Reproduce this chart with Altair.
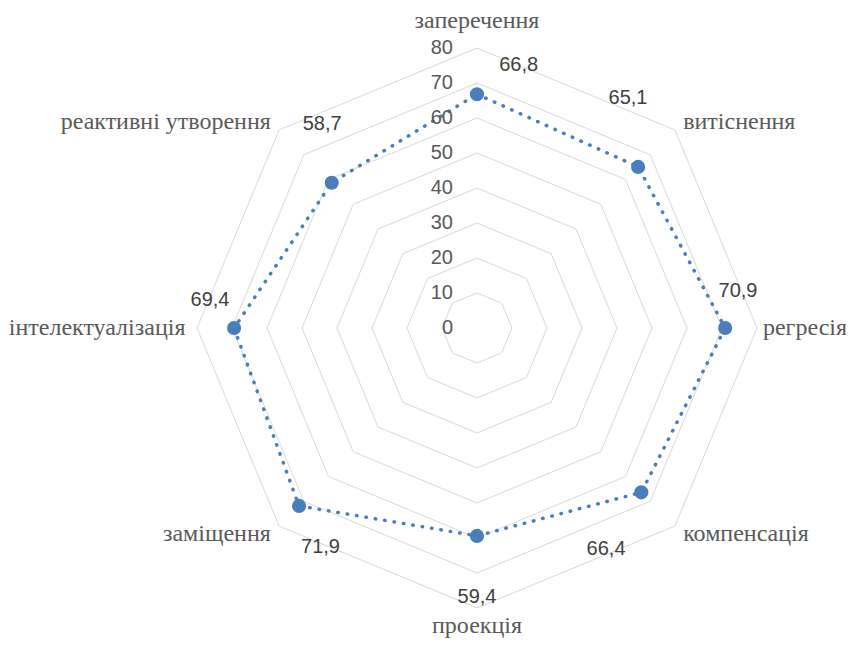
import math
import altair as alt
import pandas as pd

categories = ["заперечення", "витіснення", "регресія", "компенсація",
              "проекція", "заміщення", "інтелектуалізація", "реактивні утворення"]
values = [66.8, 65.1, 70.9, 66.4, 59.4, 71.9, 69.4, 58.7]
value_labels = ["66,8", "65,1", "70,9", "66,4", "59,4", "71,9", "69,4", "58,7"]
ticks = [0, 10, 20, 30, 40, 50, 60, 70, 80]

# value-label placement: angular nudge (degrees) and radius (axis units)
label_nudge = [9, -11.7, -8, 14.7, 0, -9.5, 6, 7.8]
label_rad = [76.1, 78.6, 75.3, 73.1, 76.9, 77.0, 76.7, 73.2]

n = len(categories)
BLUE = "#4a7ebb"
GRID = "#d9d9d9"
TXT = "#595959"

W, H = 838, 630
PX = 3.5
CX, CY = 469, 320

def pol(r, i, nudge=0.0):
    a = math.radians(i * 360.0 / n + nudge)
    return r * math.sin(a), r * math.cos(a)

# grid rings
grid_rows = []
for t in ticks[1:]:
    for k in range(n + 1):
        x, y = pol(t, k % n)
        grid_rows.append({"ring": t, "k": k, "x": x, "y": y})
grid_df = pd.DataFrame(grid_rows)

# series
ser_rows = []
for k in range(n + 1):
    i = k % n
    x, y = pol(values[i], i)
    ser_rows.append({"k": k, "x": x, "y": y, "cat": categories[i], "v": values[i]})
ser_df = pd.DataFrame(ser_rows)
pts_df = ser_df.iloc[:n]

# value labels
vl_rows = []
for i in range(n):
    x, y = pol(label_rad[i], i, label_nudge[i])
    vl_rows.append({"x": x, "y": y, "t": value_labels[i]})
vl_df = pd.DataFrame(vl_rows)

# category labels
cat_rows = []
for i in range(n):
    ang = i * 360.0 / n
    if ang == 0:
        r, al, bl = (CY - 0.5) / PX, "center", "top"
    elif ang == 180:
        r, al, bl = (H - CY - 0.5) / PX, "center", "bottom"
    elif ang == 90:
        r, al, bl = 81.7, "left", "middle"
    elif ang < 180:
        r, al, bl = 83.3, "left", "middle"
    else:
        r, al, bl = 83.3, "right", "middle"
    x, y = pol(r, i)
    cat_rows.append({"x": x, "y": y, "t": categories[i], "al": al, "bl": bl})
cat_df = pd.DataFrame(cat_rows)

tick_df = pd.DataFrame({"x": [0.0] * len(ticks), "y": [float(t) for t in ticks],
                        "t": [str(t) for t in ticks]})

xs = alt.Scale(domain=[-CX / PX, (W - CX) / PX], nice=False, zero=False)
ys = alt.Scale(domain=[-(H - CY) / PX, CY / PX], nice=False, zero=False)
X = alt.X("x:Q", scale=xs, axis=None)
Y = alt.Y("y:Q", scale=ys, axis=None)

grid = alt.Chart(grid_df).mark_line(color=GRID, strokeWidth=1).encode(
    x=X, y=Y, detail="ring:N", order="k:Q")

line = alt.Chart(ser_df).mark_line(color=BLUE, strokeWidth=3.5, strokeCap="round",
                                   strokeDash=[0.5, 9]).encode(x=X, y=Y, order="k:Q")

pts = alt.Chart(pts_df).mark_point(filled=True, shape="circle", size=200, color=BLUE,
                                   opacity=1).encode(x=X, y=Y)

tick_text = alt.Chart(tick_df).mark_text(align="right", baseline="middle", dx=-24,
                                         font="Liberation Sans", fontSize=20,
                                         color=TXT).encode(x=X, y=Y, text="t:N")

val_text = alt.Chart(vl_df).mark_text(align="center", baseline="middle",
                                      font="Liberation Sans", fontSize=20,
                                      color="#404040").encode(x=X, y=Y, text="t:N")

cat_layers = []
for al, bl in [("left", "middle"), ("center", "top"), ("center", "bottom"), ("right", "middle")]:
    sub = cat_df[(cat_df["al"] == al) & (cat_df["bl"] == bl)]
    cat_layers.append(alt.Chart(sub).mark_text(align=al, baseline=bl,
                                               font="Liberation Serif", fontSize=24,
                                               color=TXT).encode(x=X, y=Y, text="t:N"))

chart = alt.layer(grid, line, pts, tick_text, val_text, *cat_layers).properties(
    width=W, height=H, padding=0, autosize=alt.AutoSizeParams(type="none")
).configure_view(stroke=None)

chart.save("out.html", embed_options={"renderer": "svg", "actions": False})
